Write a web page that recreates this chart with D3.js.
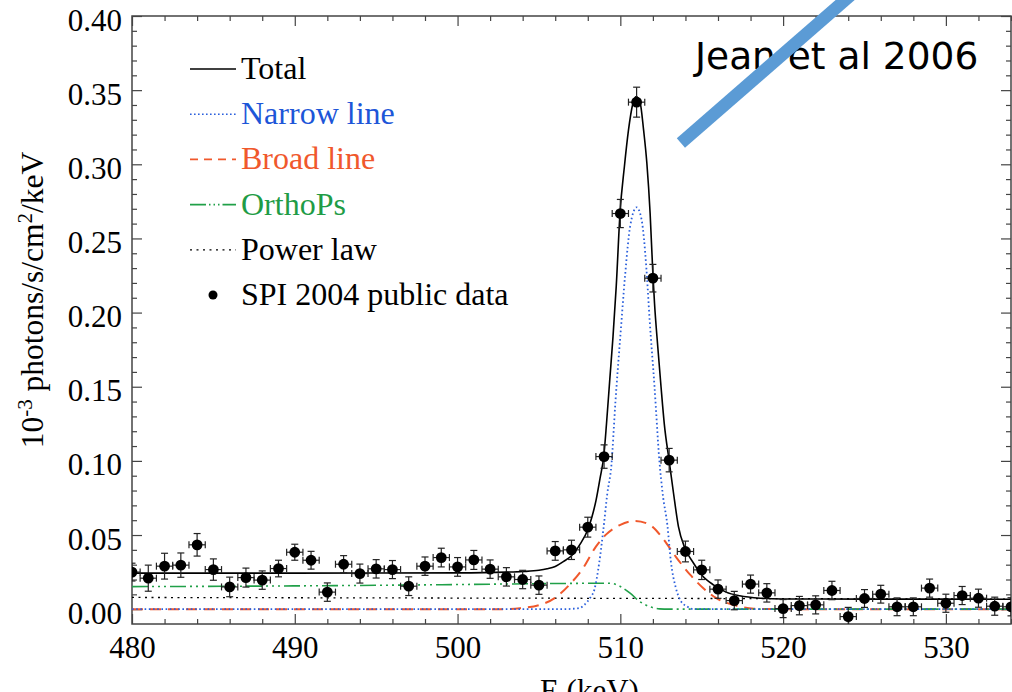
<!DOCTYPE html>
<html>
<head>
<meta charset="utf-8">
<script src="https://cdn.jsdelivr.net/npm/d3@7"></script>
<style>
  html, body { margin: 0; padding: 0; background: #fff; }
  svg { display: block; }
  .serif { font-family: "Liberation Serif", "Times New Roman", serif; }
</style>
</head>
<body>
<svg id="chart" width="1012" height="692"></svg>
<script>
// Measured spectrum, 1 keV bins (SPI 2004 public data)
const energy = d3.range(480, 535);
const flux = [
  0.0250, 0.0209, 0.0290, 0.0297, 0.0434, 0.0267, 0.0150, 0.0213, 0.0196, 0.0274,
  0.0384, 0.0330, 0.0115, 0.0303, 0.0240, 0.0272, 0.0267, 0.0155, 0.0290, 0.0348,
  0.0285, 0.0332, 0.0270, 0.0218, 0.0200, 0.0162, 0.0393, 0.0400, 0.0553, 0.1029,
  0.2668, 0.3419, 0.2232, 0.1005, 0.0389, 0.0265, 0.0135, 0.0058, 0.0169, 0.0110,
  0.0004, 0.0024, 0.0029, 0.0126, -0.0050, 0.0072, 0.0101, 0.0016, 0.0016, 0.0142,
  0.0040, 0.0092, 0.0074, 0.0020, 0.0016
];
const fluxErr = [
  0.0060, 0.0088, 0.0087, 0.0082, 0.0076, 0.0072, 0.0066, 0.0064, 0.0062, 0.0056,
  0.0054, 0.0060, 0.0062, 0.0058, 0.0064, 0.0062, 0.0061, 0.0063, 0.0062, 0.0063,
  0.0063, 0.0064, 0.0062, 0.0062, 0.0062, 0.0062, 0.0063, 0.0065, 0.0067, 0.0079,
  0.0095, 0.0101, 0.0093, 0.0079, 0.0070, 0.0065, 0.0062, 0.0062, 0.0061, 0.0062,
  0.0061, 0.0062, 0.0061, 0.0062, 0.0062, 0.0060, 0.0060, 0.0060, 0.0060, 0.0061,
  0.0061, 0.0061, 0.0061, 0.0061, 0.0061
];
const binHalfWidth = 0.5;

// Fitted model components
const totalE = [480, 485, 490, 495, 500, 503, 504, 505, 505.5, 506, 506.5, 507, 507.5, 508,
  508.25, 508.5, 508.75, 509.0, 509.15, 509.35, 509.55, 509.75, 509.98, 510.25, 510.5, 510.75,
  510.98, 511.22, 511.43, 511.63, 511.83, 512.0, 512.1, 512.3, 512.5, 512.7, 513.0, 513.27,
  513.57, 513.97, 514.5, 515.0, 515.72, 516.5, 517.33, 518.6, 520, 525, 534];
const totalV = [0.0243, 0.0243, 0.0243, 0.0244, 0.0245, 0.0250, 0.0254, 0.0262, 0.0272, 0.0288,
  0.0321, 0.0360, 0.0434, 0.0535, 0.0620, 0.0730, 0.0880, 0.1050, 0.1250, 0.1546, 0.1838, 0.2180,
  0.2670, 0.2985, 0.3230, 0.3400, 0.3457, 0.3414, 0.3230, 0.3007, 0.2670, 0.2260, 0.2063, 0.1770,
  0.1500, 0.1250, 0.1000, 0.0780, 0.0557, 0.0411, 0.0310, 0.0231, 0.0164, 0.0115, 0.0090, 0.0074,
  0.0069, 0.0068, 0.0067];

const narrowE = [480, 506.5, 507, 507.5, 507.8, 508.15, 508.4, 508.7, 508.96, 509.2, 509.45,
  509.7, 510.0, 510.3, 510.6, 511.0, 511.3, 511.6, 511.8, 512.1, 512.4, 512.6, 512.9, 513.1,
  513.4, 513.7, 514.1, 514.5, 534];
const narrowV = [0, 0, 0.0002, 0.0008, 0.0030, 0.0077, 0.0130, 0.0310, 0.0540, 0.0780, 0.0970,
  0.1400, 0.1840, 0.2260, 0.2580, 0.2710, 0.2630, 0.2300, 0.1950, 0.1500, 0.1000, 0.0780, 0.0557,
  0.0326, 0.0148, 0.0058, 0.0018, 0, 0];

const broadE = [480, 502.6, 503.85, 505.1, 506.0, 506.9, 507.7, 508.5, 509.1, 510.0, 510.9,
  511.8, 512.6, 513.4, 514.3, 515.1, 515.9, 516.95, 518.2, 520, 534];
const broadV = [0, 0, 0.0007, 0.0030, 0.0077, 0.0168, 0.0275, 0.0422, 0.0501, 0.0569, 0.0595,
  0.0569, 0.0479, 0.0355, 0.0231, 0.0141, 0.0074, 0.0029, 0.0003, 0, 0];

const orthoE = [480, 490, 500, 505, 509.3, 509.7, 510.0, 510.6, 511.2, 511.8, 512.4, 513, 534];
const orthoV = [0.0152, 0.0157, 0.0166, 0.0172, 0.0175, 0.0168, 0.0153, 0.0108, 0.0051, 0.0017,
  0.0002, 0, 0];

const powerE = [480, 490, 500, 510, 520, 534];
const powerV = [0.0079, 0.0077, 0.0075, 0.0073, 0.0071, 0.0068];

// Axis ticks
const xMajor = [480, 490, 500, 510, 520, 530];
const xMinor = d3.range(482, 535, 2).filter(v => v % 10 !== 0);
const yMajor = [0, 0.05, 0.10, 0.15, 0.20, 0.25, 0.30, 0.35, 0.40];
const yMinor = d3.range(1, 40).filter(v => v % 5 !== 0).map(v => v / 100);

// Legend entries
const legendLabels = ["Total", "Narrow line", "Broad line", "OrthoPs", "Power law", "SPI 2004 public data"];
const legendColors = ["#000000", "#1d56d8", "#f0582c", "#1f9c46", "#000000", "#000000"];

const colors = { total: "#000", narrow: "#2a5fdc", broad: "#f0582c", ortho: "#20a048", power: "#000" };

const svg = d3.select("#chart");
const plot = { left: 132, right: 1011, top: 16, bottom: 624 };

const x = d3.scaleLinear().domain([480, 534]).range([plot.left, plot.right]);
const y = d3.scaleLinear().domain([-0.01, 0.40]).range([plot.bottom, plot.top]);

svg.append("defs").append("clipPath").attr("id", "plotClip")
  .append("rect")
  .attr("x", plot.left).attr("y", plot.top)
  .attr("width", plot.right - plot.left).attr("height", plot.bottom - plot.top);

// Axes: inward major and minor ticks on all four sides
const axisColor = "#444";
function styleAxis(g) {
  g.attr("font-family", null).attr("font-size", null);
  g.select(".domain").remove();
  g.selectAll(".tick line").attr("stroke", axisColor).attr("stroke-width", 1.2);
}
svg.append("g").attr("transform", `translate(0,${plot.bottom})`)
  .call(d3.axisBottom(x).tickValues(xMinor).tickSize(-5).tickFormat("")).call(styleAxis);
svg.append("g").attr("transform", `translate(0,${plot.top})`)
  .call(d3.axisTop(x).tickValues(xMinor).tickSize(-5).tickFormat("")).call(styleAxis);
svg.append("g").attr("transform", `translate(0,${plot.top})`)
  .call(d3.axisTop(x).tickValues(xMajor).tickSize(-10).tickFormat("")).call(styleAxis);
svg.append("g").attr("transform", `translate(${plot.left},0)`)
  .call(d3.axisLeft(y).tickValues(yMinor).tickSize(-5).tickFormat("")).call(styleAxis);
svg.append("g").attr("transform", `translate(${plot.right},0)`)
  .call(d3.axisRight(y).tickValues(yMinor).tickSize(-5).tickFormat("")).call(styleAxis);
svg.append("g").attr("transform", `translate(${plot.right},0)`)
  .call(d3.axisRight(y).tickValues(yMajor).tickSize(-10).tickFormat("")).call(styleAxis);

const xAxis = svg.append("g").attr("transform", `translate(0,${plot.bottom})`)
  .call(d3.axisBottom(x).tickValues(xMajor).tickSize(-10).tickFormat(d3.format("d")))
  .call(styleAxis);
xAxis.selectAll("text")
  .attr("class", "serif").attr("y", 34).attr("dy", null)
  .attr("font-size", 31).attr("fill", "#000");

const yAxis = svg.append("g").attr("transform", `translate(${plot.left},0)`)
  .call(d3.axisLeft(y).tickValues(yMajor).tickSize(-10).tickFormat(d3.format(".2f")))
  .call(styleAxis);
yAxis.selectAll("text")
  .attr("class", "serif").attr("x", -10).attr("y", 14).attr("dy", null)
  .attr("font-size", 31).attr("fill", "#000");

// Frame
svg.append("rect")
  .attr("x", plot.left).attr("y", plot.top)
  .attr("width", plot.right - plot.left).attr("height", plot.bottom - plot.top)
  .attr("fill", "none").attr("stroke", axisColor).attr("stroke-width", 1.5);

// Model curves
const curves = svg.append("g").attr("clip-path", "url(#plotClip)");
function drawCurve(es, vs, color, width, dash) {
  const line = d3.line().x((d, i) => x(es[i])).y(d => y(d)).curve(d3.curveMonotoneX);
  curves.append("path").datum(vs)
    .attr("d", line).attr("fill", "none")
    .attr("stroke", color).attr("stroke-width", width)
    .attr("stroke-dasharray", dash);
}
drawCurve(powerE, powerV, colors.power, 1.3, "2,4.5");
drawCurve(broadE, broadV, colors.broad, 2, "11,7");
drawCurve(orthoE, orthoV, colors.ortho, 1.6, "16,4,2,4,2,4,2,4");
drawCurve(narrowE, narrowV, colors.narrow, 1.8, "1.6,2.6");
drawCurve(totalE, totalV, colors.total, 1.6, null);

// Data points with error bars
const pts = svg.append("g").attr("clip-path", "url(#plotClip)");
const capV = 3.5, capH = 3.5;
energy.forEach((e, i) => {
  const cx = x(e), cy = y(flux[i]);
  const y0 = y(flux[i] - fluxErr[i]), y1 = y(flux[i] + fluxErr[i]);
  const x0 = x(e - binHalfWidth), x1 = x(e + binHalfWidth);
  const g = pts.append("g").attr("stroke", "#222").attr("stroke-width", 1.2);
  g.append("line").attr("x1", cx).attr("x2", cx).attr("y1", y0).attr("y2", y1);
  g.append("line").attr("x1", cx - capV).attr("x2", cx + capV).attr("y1", y0).attr("y2", y0);
  g.append("line").attr("x1", cx - capV).attr("x2", cx + capV).attr("y1", y1).attr("y2", y1);
  g.append("line").attr("x1", x0).attr("x2", x1).attr("y1", cy).attr("y2", cy);
  g.append("line").attr("x1", x0).attr("x2", x0).attr("y1", cy - capH).attr("y2", cy + capH);
  g.append("line").attr("x1", x1).attr("x2", x1).attr("y1", cy - capH).attr("y2", cy + capH);
});
pts.selectAll("circle").data(energy).join("circle")
  .attr("cx", d => x(d)).attr("cy", (d, i) => y(flux[i])).attr("r", 5.4).attr("fill", "#000");

// Legend
const legend = svg.append("g").attr("class", "serif");
const legendStyles = [
  { color: colors.total, width: 1.6, dash: null },
  { color: colors.narrow, width: 1.6, dash: "1.6,2.4" },
  { color: colors.broad, width: 1.6, dash: "8,6" },
  { color: colors.ortho, width: 1.6, dash: "16,3,1.5,3,1.5,3,1.5,3" },
  { color: colors.power, width: 1.3, dash: "2,4.5" }
];
legendLabels.forEach((label, i) => {
  const ly = 69 + i * 45.2;
  if (i < 5) {
    const s = legendStyles[i];
    legend.append("line").attr("x1", 190).attr("x2", 236).attr("y1", ly).attr("y2", ly)
      .attr("stroke", s.color).attr("stroke-width", s.width).attr("stroke-dasharray", s.dash);
  } else {
    legend.append("circle").attr("cx", 213).attr("cy", ly).attr("r", 4.5).attr("fill", "#000");
  }
  legend.append("text").attr("x", 241).attr("y", ly + 10)
    .attr("font-size", 32).attr("fill", legendColors[i]).text(label);
});

// Axis titles
const yTitle = svg.append("text").attr("class", "serif")
  .attr("transform", "translate(43,300) rotate(-90)")
  .attr("text-anchor", "middle").attr("font-size", 31.5).attr("fill", "#000");
yTitle.append("tspan").text("10");
yTitle.append("tspan").attr("dy", -11).attr("font-size", 21).text("-3");
yTitle.append("tspan").attr("dy", 11).text(" photons/s/cm");
yTitle.append("tspan").attr("dy", -11).attr("font-size", 21).text("2");
yTitle.append("tspan").attr("dy", 11).text("/keV");

svg.append("text").attr("class", "serif")
  .attr("x", x(508.1)).attr("y", 701).attr("text-anchor", "middle")
  .attr("font-size", 31).attr("fill", "#000").text("E (keV)");

// Citation note with a highlight stroke across it
svg.append("text")
  .attr("x", 695).attr("y", 69)
  .attr("font-family", "DejaVu Sans, sans-serif").attr("font-size", 37.5).attr("fill", "#000")
  .text("Jean et al 2006");
svg.append("line")
  .attr("x1", x(513.72)).attr("y1", y(0.3144))
  .attr("x2", x(525.3)).attr("y2", y(0.425))
  .attr("stroke", "#5b9bd5").attr("stroke-width", 12.5).attr("stroke-linecap", "butt");
</script>
</body>
</html>
